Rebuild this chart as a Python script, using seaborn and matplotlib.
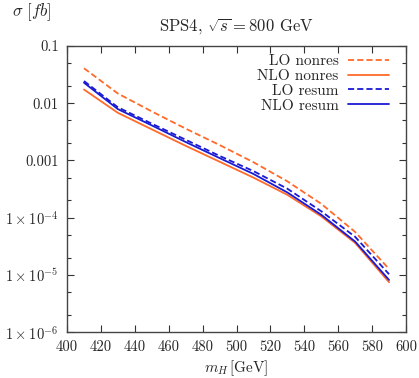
import numpy as np
import pandas as pd
import matplotlib
matplotlib.use('Agg')
import matplotlib.pyplot as plt
import matplotlib.ticker as mticker
import seaborn as sns

# data
m_h = [410, 430, 450, 470, 490, 510, 530, 550, 570, 590]
lo_nonres = [0.041, 0.0148, 0.0072, 0.0036, 0.00186, 0.00093, 0.00043, 0.000174, 5.6e-5, 1.26e-5]
nlo_nonres = [0.0174, 0.0068, 0.0035, 0.0018, 0.00095, 0.0005, 0.00025, 0.000105, 3.6e-5, 7.4e-6]
lo_resum = [0.0245, 0.0085, 0.0044, 0.0023, 0.0012, 0.00065, 0.00032, 0.000129, 4.6e-5, 1.02e-5]
nlo_resum = [0.0229, 0.0079, 0.0041, 0.0021, 0.0011, 0.00058, 0.000275, 0.000112, 3.8e-5, 8.1e-6]

x_ticks = [400, 420, 440, 460, 480, 500, 520, 540, 560, 580, 600]
y_ticks = [1e-6, 1e-5, 1e-4, 1e-3, 1e-2, 1e-1]
y_tick_labels = [r'$1\times10^{-6}$', r'$1\times10^{-5}$', r'$1\times10^{-4}$', '0.001', '0.01', '0.1']

sns.set_style('ticks')
plt.rcParams['font.family'] = ['cmr10', 'DejaVu Serif']
plt.rcParams['mathtext.fontset'] = 'cm'
plt.rcParams['axes.unicode_minus'] = False

orange = '#ff6a2a'
blue = '#1a1ad4'

series = [
    ('LO nonres', lo_nonres, orange, (3.4, 1.7)),
    ('NLO nonres', nlo_nonres, orange, ''),
    ('LO resum', lo_resum, blue, (3.4, 1.7)),
    ('NLO resum', nlo_resum, blue, ''),
]

fig = plt.figure(figsize=(4.19, 3.78), dpi=100)
ax = fig.add_axes([0.160, 0.122, 0.809, 0.756])

for label, vals, color, dash in series:
    df = pd.DataFrame({'m_H': m_h, 'sigma': vals})
    sns.lineplot(data=df, x='m_H', y='sigma', ax=ax, color=color, lw=1.3,
                 label=label, dashes=False)
    line = ax.get_lines()[-1]
    if dash:
        line.set_dashes(dash)

ax.set_yscale('log')
ax.set_xlim(400, 600)
ax.set_ylim(1e-6, 0.1)
ax.set_xticks(x_ticks)
ax.set_xticklabels([str(t) for t in x_ticks])
ax.yaxis.set_major_locator(mticker.FixedLocator(y_ticks))
ax.yaxis.set_major_formatter(mticker.FixedFormatter(y_tick_labels))
ax.yaxis.set_minor_locator(mticker.LogLocator(base=10, subs=[2, 5], numticks=20))
ax.yaxis.set_minor_formatter(mticker.NullFormatter())

ax.tick_params(which='both', direction='in', top=True, right=True, labelsize=10.5, color='#333333')
ax.tick_params(which='major', length=5, width=0.8, pad=6)
ax.tick_params(which='minor', length=3, width=0.8)
for sp in ax.spines.values():
    sp.set_color('#444444')
    sp.set_linewidth(1.0)

ax.set_xlabel(r'$m_H\,$[GeV]', fontsize=11, labelpad=3)
ax.set_ylabel('')
fig.text(0.028, 0.968, r'$\sigma\ [fb]$', fontsize=12, ha='left', va='center')
ax.set_title(r'SPS4, $\sqrt{s} = 800$ GeV', fontsize=12, pad=11)

leg = ax.legend(loc='upper right', bbox_to_anchor=(0.975, 1.0), frameon=False,
                markerfirst=False, fontsize=11, handlelength=2.7, labelspacing=0.07,
                borderaxespad=0.25, borderpad=0.3, handletextpad=0.6)
for t in leg.get_texts():
    t.set_ha('right')
leg._legend_box.align = 'right'

fig.savefig('out.png', dpi=100)
